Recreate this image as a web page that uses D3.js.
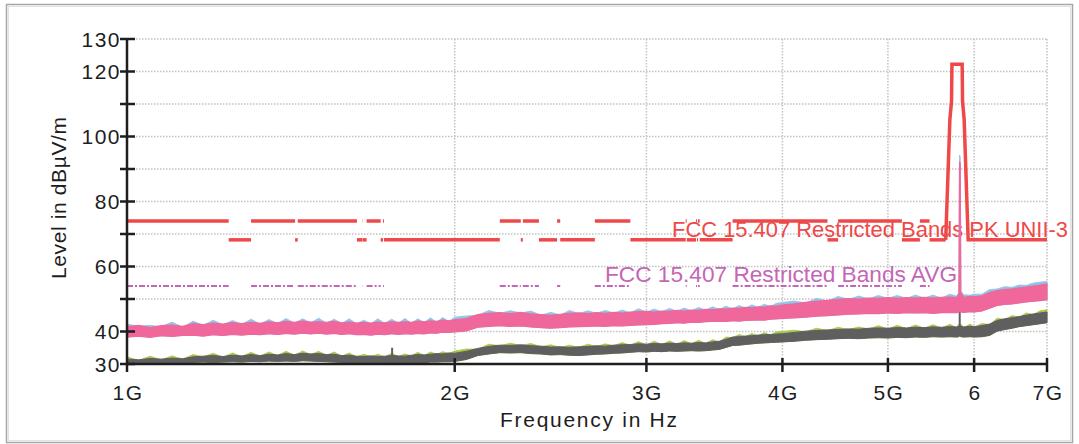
<!DOCTYPE html>
<html>
<head>
<meta charset="utf-8">
<script src="https://cdn.jsdelivr.net/npm/d3@7"></script>
<style>
  html, body { margin: 0; padding: 0; background: #fff; }
  svg { display: block; font-family: "Liberation Sans", Arial, sans-serif; }
</style>
</head>
<body>
<svg id="chart" width="1079" height="444"></svg>
<script>
// ---- Sweep frequencies (MHz) ----
const freqMHz = [
  1000,1025,1050,1075,1100,1125,1150,1175,1200,1225,1250,1275,1300,1325,1350,1375,1400,1425,1450,1475,
  1500,1525,1550,1575,1600,1625,1650,1675,1700,1725,1750,1775,1800,1825,1850,1875,1900,1925,1950,1975,2000,
  2050,2100,2150,2200,2250,2300,2350,2400,2450,2500,2550,2600,2650,2700,2750,2800,2850,2900,2950,3000,
  3050,3100,3150,3200,3250,3300,3350,3400,3450,3500,3550,3600,3650,3700,3750,3800,3850,3900,3950,4000,
  4100,4200,4300,4400,4500,4600,4700,4800,4900,5000,5100,5200,5300,5400,5500,5600,5700,
  5780,5810,5818,5826,5834,5870,5950,6000,
  6100,6200,6300,6400,6500,6600,6700,6800,6900,7000
];

// ---- Peak detector trace (pink band: upper / lower envelope, dBµV/m) ----
const pinkHi = [
  41.4,41.9,41.2,41.8,42.0,41.6,42.4,42.1,42.6,42.3,42.7,42.4,42.8,42.5,43.0,42.7,43.1,42.8,43.2,42.9,
  43.0,42.8,43.1,42.7,42.9,42.6,42.8,42.6,42.9,42.7,43.0,42.8,43.0,42.8,43.2,43.0,43.3,43.1,43.5,43.3,43.6,
  44.0,45.2,45.6,45.8,45.5,45.9,45.4,45.2,45.0,45.3,45.6,45.7,45.5,45.8,45.6,45.9,45.7,46.0,46.1,46.2,
  46.0,46.3,46.2,46.5,46.3,46.6,46.5,46.8,46.7,47.0,46.9,47.2,47.1,47.4,47.3,47.6,47.5,47.9,47.8,48.1,
  48.5,49.0,49.3,49.6,49.9,50.1,50.0,50.3,50.2,50.4,50.2,50.4,50.3,50.5,50.3,50.5,50.6,
  50.4,51.5,92.2,91.8,52.0,50.5,50.8,50.7,
  51.0,52.0,52.6,52.9,53.1,53.4,53.7,54.0,54.3,54.6
];
const pinkLo = [
  38.3,38.6,38.2,38.7,38.5,38.8,38.9,38.6,39.0,38.8,39.1,38.9,39.2,39.0,39.3,39.1,39.4,39.2,39.5,39.3,
  39.5,39.2,39.4,39.1,39.3,39.0,39.1,38.9,39.2,39.0,39.3,39.1,39.3,39.2,39.4,39.3,39.6,39.5,39.8,39.7,39.9,
  40.2,41.3,41.6,41.8,41.6,41.7,41.4,41.2,41.0,41.2,41.4,41.5,41.6,41.7,41.6,41.8,41.7,41.9,42.0,42.1,
  42.2,42.4,42.5,42.7,42.6,42.9,42.8,43.0,43.1,43.2,43.1,43.3,43.2,43.4,43.5,43.6,43.5,43.8,43.9,44.0,
  44.2,44.4,44.7,44.9,45.1,45.3,45.4,45.6,45.5,45.7,45.6,45.8,45.7,45.8,45.6,45.8,45.9,
  45.8,46.0,46.5,46.3,46.0,45.9,46.1,46.0,
  46.3,47.2,48.0,48.3,48.5,48.8,49.1,49.3,49.5,49.8
];
// Max-hold peak (light blue, peeks above the pink band)
const blueHi = [
  42.3,41.6,41.9,41.5,42.9,41.3,43.2,41.9,43.5,42.1,43.4,42.2,43.8,42.3,43.7,42.5,44.0,42.6,43.9,42.7,
  44.1,42.6,43.8,42.5,43.9,42.4,43.5,42.4,43.9,42.5,43.8,42.6,44.0,42.6,43.9,42.8,44.2,42.9,44.3,43.1,44.4,
  44.8,45.0,46.5,45.6,46.4,45.7,46.3,45.0,45.9,45.1,46.5,45.5,46.4,45.6,46.5,45.7,46.6,45.8,47.0,46.0,
  46.9,46.1,47.1,46.3,47.2,46.4,47.4,46.6,47.6,46.8,47.8,47.0,48.0,47.2,48.2,47.4,48.4,47.7,48.7,48.9,
  49.4,48.8,50.2,49.4,50.8,49.9,50.9,50.1,51.1,50.2,51.1,50.2,51.2,50.3,51.2,50.3,51.5,
  50.9,52.0,94.3,93.8,52.5,51.3,51.2,51.5,
  51.5,52.9,53.1,53.8,53.6,54.3,54.2,54.9,55.2,55.4
];

// ---- Average detector trace (dark grey band) ----
const grayHi = [
  31.5,31.3,31.7,31.5,31.8,31.6,32.2,32.4,32.6,32.3,32.7,32.5,32.9,32.6,33.0,32.8,33.2,32.9,33.3,33.1,
  33.2,32.9,33.0,32.6,32.7,32.4,32.3,32.5,32.3,32.4,32.6,32.5,32.4,32.7,32.9,32.8,33.0,33.2,33.1,33.4,33.3,
  33.9,34.8,35.4,35.8,35.7,35.9,35.6,35.5,35.2,35.3,35.1,35.3,35.4,35.6,35.5,35.8,35.9,36.0,36.2,36.1,
  36.3,36.2,36.4,36.3,36.5,36.4,36.6,36.5,36.8,37.0,37.6,38.3,38.4,38.6,38.7,38.9,39.0,39.1,39.2,39.3,
  39.7,40.1,40.3,40.5,40.6,40.8,40.7,41.0,41.1,41.0,41.2,41.1,41.3,41.2,41.4,41.3,41.5,
  41.4,41.6,41.8,41.7,41.6,41.4,41.6,41.5,
  41.8,42.3,43.4,43.9,44.2,44.6,45.0,45.4,45.7,46.0
];
const grayLo = [
  30.2,30.1,30.3,30.2,30.4,30.3,30.5,30.6,30.5,30.6,30.7,30.6,30.8,30.7,30.9,30.8,30.9,30.8,31.0,30.9,
  30.8,30.7,30.6,30.5,30.4,30.3,30.2,30.3,30.2,30.3,30.2,30.3,30.3,30.4,30.5,30.4,30.6,30.6,30.7,30.7,30.8,
  31.4,32.6,33.1,33.5,33.4,33.5,33.2,33.1,32.8,32.9,32.7,32.6,32.8,33.0,33.1,33.3,33.4,33.6,33.8,33.7,
  33.9,33.8,34.0,33.9,34.0,34.1,34.0,34.1,34.3,34.5,35.1,35.7,35.8,36.0,36.2,36.4,36.5,36.6,36.7,36.8,
  37.0,37.3,37.5,37.6,37.8,37.9,37.8,38.0,38.1,38.0,38.2,38.1,38.3,38.2,38.4,38.3,38.4,
  38.3,38.4,38.6,38.5,38.4,38.3,38.4,38.3,
  38.4,38.8,40.1,40.6,41.0,41.5,41.8,42.1,42.4,42.7
];
// Second average trace (yellow-green, peeks around the grey band)
const greenHi = [
  32.2,31.1,32.4,31.3,32.5,31.5,32.9,32.2,33.3,32.1,33.4,32.3,33.6,32.4,33.7,32.6,33.9,32.7,34.0,32.9,
  33.9,32.7,33.7,32.4,33.4,32.2,33.0,32.3,33.0,32.2,33.3,32.3,33.1,32.5,33.6,32.6,33.7,33.0,33.8,33.2,34.0,
  34.6,34.6,36.1,35.6,36.4,35.7,36.3,35.3,35.9,35.1,35.8,35.1,36.1,35.4,36.2,35.6,36.6,35.8,36.9,35.9,
  37.0,36.0,37.1,36.1,37.2,36.2,37.3,36.3,37.5,36.8,38.3,38.1,39.1,38.4,39.4,38.7,39.7,38.9,39.9,40.0,
  40.4,39.9,41.0,40.3,41.3,40.6,41.4,40.8,41.8,40.8,41.9,40.9,42.0,41.0,42.1,41.1,42.2,
  41.2,42.3,41.6,41.5,42.3,41.2,42.3,41.3,
  42.5,42.1,44.1,43.7,44.9,44.4,45.7,45.2,46.4,46.7
];
// Narrow spurs on the average trace
const graySpurFreq  = [1752, 5820];
const graySpurBase  = [31.0, 39.0];
const graySpurLevel = [35.0, 47.2];

// ---- FCC 15.205 restricted bands (MHz) ----
const restrictedBands = [
  [960,1240],[1300,1427],[1435,1626.5],[1645.5,1646.5],[1660,1710],[1718.8,1722.2],
  [2200,2300],[2310,2390],[2483.5,2500],[2690,2900],[3260,3267],[3332,3339],[3345.8,3358],
  [3600,4400],[4500,5150],[5350,5460]
];
const pkRestricted = 74;     // dBµV/m
const pkGeneral = 68.2;      // dBµV/m
const avgRestricted = 54;    // dBµV/m
// UNII-3 band-edge mask
const maskFreq  = [5650, 5700, 5720, 5725, 5850, 5855, 5875, 5925, 7000];
const maskLevel = [68.2, 105.2, 110.8, 122.2, 122.2, 110.8, 105.2, 68.2, 68.2];

// ---- Axes ----
const xTicks = [1000, 2000, 3000, 4000, 5000, 6000, 7000];
const xTickLabels = ["1G", "2G", "3G", "4G", "5G", "6", "7G"];
const yTicks = [30, 40, 50, 60, 70, 80, 90, 100, 110, 120, 130];
const yTickLabels = ["30", "40", "", "60", "", "80", "", "100", "", "120", "130"];

const svg = d3.select("#chart");
const x = d3.scaleLog().domain([1000, 7000]).range([127, 1047]);
const y = d3.scaleLinear().domain([30, 130]).range([364, 39]);

const ink = "#1e1e1e";
const red = "#ef4848";
const magenta = "#c466b6";

// Outer frame
svg.append("rect").attr("x", 6.5).attr("y", 4.5).attr("width", 1066).attr("height", 438)
  .attr("fill", "none").attr("stroke", "#a6a6a6").attr("stroke-width", 1.5);
svg.append("rect").attr("x", 8.5).attr("y", 6.5).attr("width", 1062).attr("height", 434)
  .attr("fill", "none").attr("stroke", "#e2e2e2").attr("stroke-width", 1);

// Dotted grid
const grid = svg.append("g").attr("stroke", "#c2c2c2").attr("stroke-width", 1.5)
  .attr("stroke-dasharray", "1.5,1.5");
grid.selectAll("line.h").data(yTicks.filter(v => v > 30)).join("line")
  .attr("x1", x(1000)).attr("x2", x(7000))
  .attr("y1", d => y(d)).attr("y2", d => y(d));
grid.selectAll("line.v").data(xTicks.filter(v => v > 1000)).join("line")
  .attr("x1", d => x(d)).attr("x2", d => x(d))
  .attr("y1", y(130)).attr("y2", y(30));

// ---- Limit lines ----
function pkSegments() {
  const lo = 1000, hi = maskFreq[0];
  const segs = [];
  let cur = lo;
  for (const [a, b] of restrictedBands) {
    const s = Math.max(a, lo), e = Math.min(b, hi);
    if (e <= s) continue;
    if (s > cur) segs.push({ f0: cur, f1: s, level: pkGeneral });
    segs.push({ f0: s, f1: e, level: pkRestricted });
    cur = e;
  }
  if (cur < hi) segs.push({ f0: cur, f1: hi, level: pkGeneral });
  return segs;
}

const limits = svg.append("g");
limits.selectAll("line.avg").data(restrictedBands.filter(b => b[1] > 1000)).join("line")
  .attr("x1", d => x(Math.max(d[0], 1000))).attr("x2", d => x(d[1]))
  .attr("y1", y(avgRestricted)).attr("y2", y(avgRestricted))
  .attr("stroke", magenta).attr("stroke-width", 2).attr("stroke-dasharray", "6,2,2,2");

limits.selectAll("line.pk").data(pkSegments()).join("line")
  .attr("x1", d => x(d.f0)).attr("x2", d => x(d.f1))
  .attr("y1", d => y(d.level)).attr("y2", d => y(d.level))
  .attr("stroke", red).attr("stroke-width", 3.5);

const maskLine = d3.line().x((d, i) => x(maskFreq[i])).y((d, i) => y(maskLevel[i]));
limits.append("path").datum(maskFreq).attr("d", maskLine)
  .attr("fill", "none").attr("stroke", red).attr("stroke-width", 3.5)
  .attr("stroke-linejoin", "miter");

// Limit labels
svg.append("text").attr("x", 672).attr("y", 237)
  .attr("font-size", 22).attr("fill", red)
  .attr("textLength", 396).attr("lengthAdjust", "spacingAndGlyphs")
  .text("FCC 15.407 Restricted Bands PK UNII-3");
svg.append("text").attr("x", 605).attr("y", 282)
  .attr("font-size", 22.5).attr("fill", magenta)
  .attr("textLength", 352).attr("lengthAdjust", "spacingAndGlyphs")
  .text("FCC 15.407 Restricted Bands AVG");

// ---- Measured traces ----
const idx = d3.range(freqMHz.length);
function band(lo, hi) {
  return d3.area().x(i => x(freqMHz[i])).y0(i => y(lo[i])).y1(i => y(hi[i]));
}
const traces = svg.append("g");
traces.append("path").datum(idx).attr("d", band(grayLo, greenHi))
  .attr("fill", "#a6c84a").attr("stroke", "#a6c84a").attr("stroke-width", 0.8);
traces.append("path").datum(idx).attr("d", band(grayLo, grayHi))
  .attr("fill", "#5f5f5f").attr("stroke", "#5f5f5f").attr("stroke-width", 1);
traces.selectAll("line.spur").data(d3.range(graySpurFreq.length)).join("line")
  .attr("x1", i => x(graySpurFreq[i])).attr("x2", i => x(graySpurFreq[i]))
  .attr("y1", i => y(graySpurBase[i])).attr("y2", i => y(graySpurLevel[i]))
  .attr("stroke", "#5f5f5f").attr("stroke-width", 2);
traces.append("path").datum(idx).attr("d", band(pinkLo, blueHi))
  .attr("fill", "#92c3e8").attr("stroke", "#92c3e8").attr("stroke-width", 0.8);
traces.append("path").datum(idx).attr("d", band(pinkLo, pinkHi))
  .attr("fill", "#f0679b").attr("stroke", "#f0679b").attr("stroke-width", 1.2);

// ---- Axes ----
const axes = svg.append("g").attr("stroke", ink).attr("stroke-width", 2.5);
axes.append("line").attr("x1", x(1000)).attr("x2", x(1000)).attr("y1", y(130)).attr("y2", y(30) + 8);
axes.append("line").attr("x1", x(1000)).attr("x2", x(7000)).attr("y1", y(30)).attr("y2", y(30));
axes.selectAll("line.yt").data(yTicks).join("line")
  .attr("x1", x(1000) - 7).attr("x2", x(1000) + 8)
  .attr("y1", d => y(d)).attr("y2", d => y(d));
axes.selectAll("line.xt").data(xTicks.filter(v => v > 1000)).join("line")
  .attr("x1", d => x(d)).attr("x2", d => x(d))
  .attr("y1", y(30) - 6).attr("y2", y(30) + 8);

const labels = svg.append("g").attr("fill", ink).attr("font-size", 21)
  .style("letter-spacing", "1.5px");
labels.selectAll("text.yl").data(yTicks.map((v, i) => ({ v, t: yTickLabels[i] })).filter(d => d.t))
  .join("text")
  .attr("x", 121).attr("y", d => y(d.v) + 7.5)
  .attr("text-anchor", "end").text(d => d.t);
labels.selectAll("text.xl").data(xTicks.map((v, i) => ({ v, t: xTickLabels[i] })))
  .join("text")
  .attr("x", d => x(d.v) + 1).attr("y", 400)
  .attr("text-anchor", "middle").text(d => d.t);

// Axis titles
svg.append("clipPath").attr("id", "titleClip")
  .append("rect").attr("x", 0).attr("y", 0).attr("width", 1079).attr("height", 435.5);
svg.append("text").attr("x", 500).attr("y", 427)
  .attr("clip-path", "url(#titleClip)")
  .attr("font-size", 21).attr("fill", ink)
  .attr("textLength", 177).attr("lengthAdjust", "spacing")
  .text("Frequency in Hz");
svg.append("text").attr("transform", "translate(66,198) rotate(-90)")
  .attr("text-anchor", "middle")
  .attr("font-size", 21).attr("fill", ink)
  .attr("textLength", 162).attr("lengthAdjust", "spacing")
  .text("Level in dBµV/m");
</script>
</body>
</html>
